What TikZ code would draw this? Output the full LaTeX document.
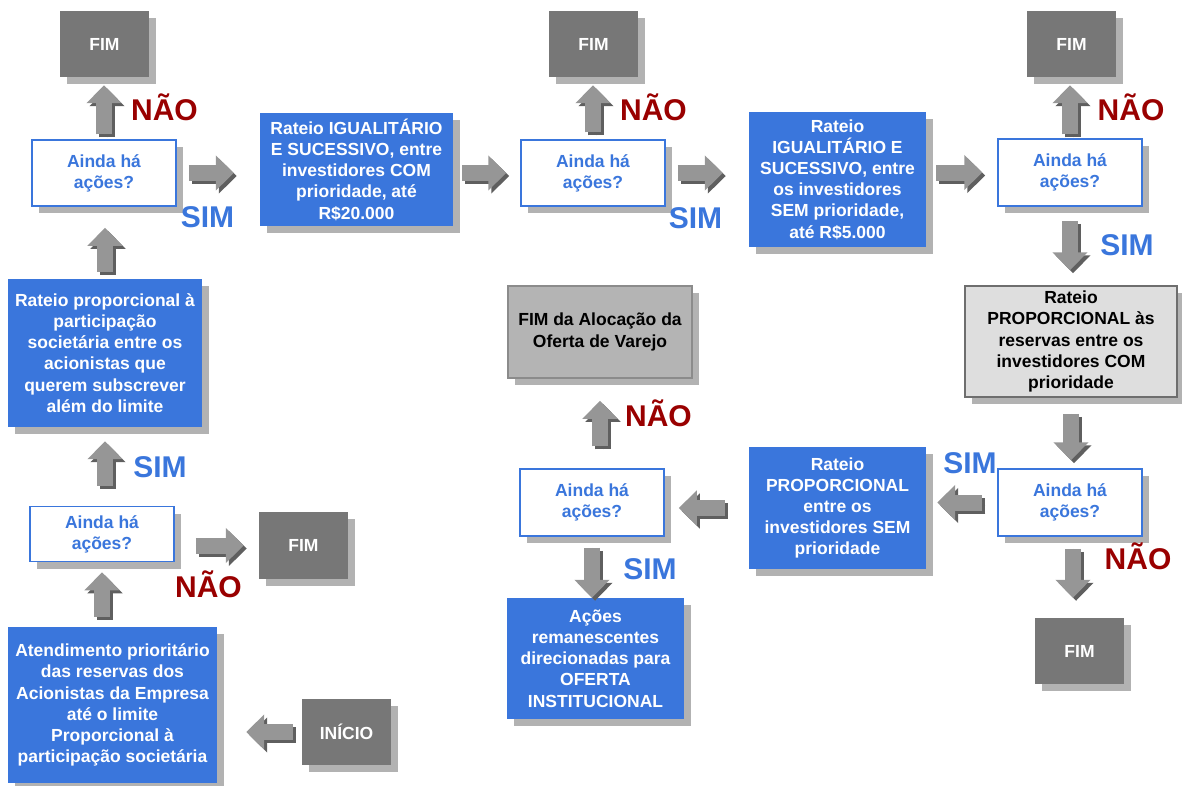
\documentclass[tikz,border=0pt]{standalone}
\usepackage{fontspec}
\setmainfont{Liberation Sans}
\usetikzlibrary{arrows.meta,shadows,calc}
\definecolor{bblue}{HTML}{3A76DC}
\definecolor{fimgray}{HTML}{777777}
\definecolor{shgray}{HTML}{B2B2B2}
\definecolor{nored}{HTML}{990000}
\definecolor{argray}{HTML}{969696}
\definecolor{ardark}{HTML}{5F5F5F}
\definecolor{lgray}{HTML}{DEDEDE}
\definecolor{mgray}{HTML}{B4B4B4}
\definecolor{bordgray}{HTML}{6E6E6E}
\newcommand\fatarr[3][]{%
  \draw[fatbody,draw=ardark,fill=ardark,transform canvas={xshift=3pt,yshift=-3pt},#1] #2 -- #3;
  \draw[fatbody,draw=argray,fill=argray,#1] #2 -- #3;}
\begin{document}
\begin{tikzpicture}[x=1pt,y=-1pt,
  boxbase/.style={inner sep=0pt, align=center,
    font=\fontsize{17.5}{21.2}\selectfont\bfseries,
    drop shadow={shadow xshift=7pt,shadow yshift=-7pt,fill=shgray,opacity=1}},
  bluebox/.style={boxbase, fill=bblue, text=white},
  fimbox/.style={boxbase, fill=fimgray, text=white, minimum width=89pt, minimum height=66pt},
  askbox/.style={boxbase, fill=white, draw=bblue, line width=1.5pt, text=bblue, minimum width=144pt, minimum height=66pt},
  lightbox/.style={boxbase, fill=lgray, draw=bordgray, line width=1.5pt, text=black},
  midbox/.style={boxbase, fill=mgray, draw=bordgray!80, line width=1.5pt, text=black},
  lbl/.style={inner sep=0pt, font=\fontsize{30}{32}\selectfont\bfseries, text height=21pt, text depth=0pt},
  naolbl/.style={lbl, text=nored},
  simlbl/.style={lbl, text=bblue},
  fatbody/.style={line width=16pt, -{Triangle[width=34pt,length=18pt]}}
]
\useasboundingbox (0,0) rectangle (1182,785);

% left column
\node[fimbox] (fim1) at (104.5,44) {FIM};
\node[askbox] (ainda1) at (104,173) {Ainda há\\ações?};
\node[bluebox, minimum width=194pt, minimum height=148pt] (rprop) at (105,353)
  {Rateio proporcional à\\participação\\societária entre os\\acionistas que\\querem subscrever\\além do limite};
\node[askbox, minimum height=55pt] (ainda2) at (102,534) {Ainda há\\ações?};
\node[fimbox, minimum height=67pt] (fim2) at (303.5,545.5) {FIM};
\node[bluebox, minimum width=209pt, minimum height=156pt] (atend) at (112.5,705)
  {Atendimento prioritário\\das reservas dos\\Acionistas da Empresa\\até o limite\\Proporcional à\\participação societária};
\node[fimbox] (inicio) at (346.5,732) {INÍCIO};

% middle
\node[bluebox, minimum width=193pt, minimum height=113pt] (rig) at (356.5,169.5)
  {Rateio IGUALITÁRIO\\E SUCESSIVO, entre\\investidores COM\\prioridade, até\\R\$20.000};
\node[fimbox] (fim3) at (593.5,44) {FIM};
\node[askbox] (ainda3) at (593,173) {Ainda há\\ações?};
\node[midbox, minimum width=184pt, minimum height=92pt] (fimaloc) at (600,332)
  {FIM da Alocação da\\Oferta de Varejo};
\node[askbox, minimum height=67pt] (ainda6) at (592,502.5) {Ainda há\\ações?};
\node[bluebox, minimum width=177pt, minimum height=121pt] (acoes) at (595.5,658.5)
  {Ações\\remanescentes\\direcionadas para\\OFERTA\\INSTITUCIONAL};

% right
\node[bluebox, minimum width=177pt, minimum height=135pt] (rigs) at (837.5,179.5)
  {Rateio\\IGUALITÁRIO E\\SUCESSIVO, entre\\os investidores\\SEM prioridade,\\até R\$5.000};
\node[bluebox, minimum width=177pt, minimum height=122pt] (rpsem) at (837.5,508)
  {Rateio\\PROPORCIONAL\\entre os\\investidores SEM\\prioridade};
\node[fimbox] (fim4) at (1071.5,44) {FIM};
\node[askbox, minimum height=67pt] (ainda4) at (1070,172.5) {Ainda há\\ações?};
\node[lightbox, minimum width=212pt, minimum height=111pt] (rpcom) at (1071,341.5)
  {Rateio\\PROPORCIONAL às\\reservas entre os\\investidores COM\\prioridade};
\node[askbox, minimum height=67pt] (ainda5) at (1070,502.5) {Ainda há\\ações?};
\node[fimbox] (fim5) at (1079.5,651) {FIM};

% labels
\node[naolbl] (n1) at (164.5,109.5) {NÃO};
\node[simlbl] (s1) at (207.5,217) {SIM};
\node[simlbl] (s2) at (160,467) {SIM};
\node[naolbl] (n2) at (208.5,586.5) {NÃO};
\node[naolbl] (n3) at (653.5,109.5) {NÃO};
\node[simlbl] (s3) at (695.5,217.5) {SIM};
\node[naolbl] (n4) at (1131,109.5) {NÃO};
\node[simlbl] (s4) at (1127,244.5) {SIM};
\node[simlbl] (s5) at (970,463) {SIM};
\node[naolbl] (n5) at (1138,558.5) {NÃO};
\node[naolbl] (n6) at (658.5,416) {NÃO};
\node[simlbl] (s6) at (650,569) {SIM};

% arrows
\fatarr[shorten <=5pt,shorten >=8pt]{(ainda1.north)}{(ainda1.north |- fim1.south)}
\fatarr[shorten <=7pt,shorten >=21pt]{(rprop.north)}{(rprop.north |- ainda1.south)}
\fatarr[shorten <=20pt,shorten >=14pt]{(ainda2.north -| rprop.south)}{(rprop.south)}
\fatarr[shorten <=10pt,shorten >=10pt]{(atend.north -| ainda2.south)}{(ainda2.south)}
\fatarr[shorten <=21pt,shorten >=15pt]{(ainda2.east |- fim2.west)}{(fim2.west)}
\fatarr[shorten <=9pt,shorten >=29pt]{(inicio.west)}{(inicio.west -| atend.east)}
\fatarr[shorten <=12pt,shorten >=26pt]{(ainda1.east)}{(ainda1.east -| rig.west)}
\fatarr[shorten <=9pt,shorten >=14pt]{(ainda3.west -| rig.east)}{(ainda3.west)}
\fatarr[shorten <=7pt,shorten >=8pt]{(ainda3.north)}{(ainda3.north |- fim3.south)}
\fatarr[shorten <=12pt,shorten >=26pt]{(ainda3.east)}{(ainda3.east -| rigs.west)}
\fatarr[shorten <=10pt,shorten >=15pt]{(ainda4.west -| rigs.east)}{(ainda4.west)}
\fatarr[shorten <=4pt,shorten >=8pt]{(ainda4.north)}{(ainda4.north |- fim4.south)}
\fatarr[shorten <=14pt,shorten >=15pt]{(ainda4.south)}{(ainda4.south |- rpcom.north)}
\fatarr[shorten <=16pt,shorten >=8pt]{(rpcom.south)}{(rpcom.south |- ainda5.north)}
\fatarr[shorten <=15pt,shorten >=11pt]{(ainda5.west)}{(ainda5.west -| rpsem.east)}
\fatarr[shorten <=12pt,shorten >=20pt]{([xshift=3pt]ainda5.south)}{([xshift=3pt]ainda5.south |- fim5.north)}
\fatarr[shorten <=24pt,shorten >=14pt]{(rpsem.west)}{(rpsem.west -| ainda6.east)}
\fatarr[shorten <=22pt,shorten >=22pt]{(ainda6.north -| fimaloc.south)}{(fimaloc.south)}
\fatarr[shorten <=11pt,shorten >=0pt]{(ainda6.south)}{(ainda6.south |- acoes.north)}
\end{tikzpicture}
\end{document}
